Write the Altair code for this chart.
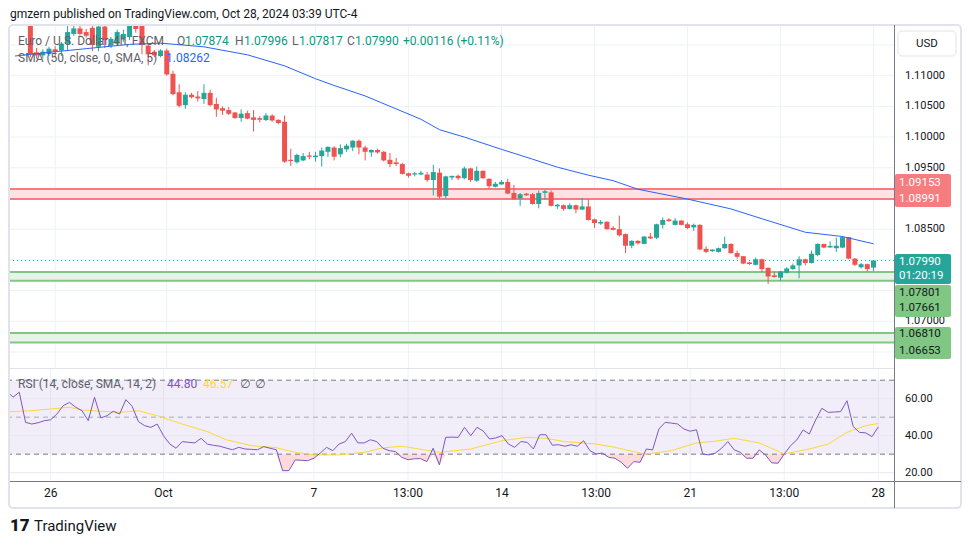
import json
import altair as alt
import pandas as pd

# ---------------- data ----------------
# EUR/USD 4h candles, index 0 = Sep 25 01:00 ... index 138 = Oct 28 01:00 (UTC-4)
opens = [1.1195, 1.1200, 1.1200, 1.1138, 1.1133, 1.1135, 1.1143, 1.1141, 1.1152, 1.1168,
         1.1177, 1.1171, 1.1178, 1.1147, 1.1180, 1.1149, 1.1152, 1.1160, 1.1163, 1.1181,
         1.1183, 1.1149, 1.1139, 1.1132, 1.1141, 1.1103, 1.1073, 1.1052, 1.1069, 1.1066,
         1.1062, 1.1072, 1.1054, 1.1047, 1.1044, 1.1040, 1.1031, 1.1039, 1.1032, 1.1030,
         1.1028, 1.1035, 1.1028, 1.1025, 1.0963, 1.0959, 1.0962, 1.0970, 1.0968, 1.0969,
         1.0976, 1.0983, 1.0972, 1.0980, 1.0983, 1.0994, 1.0983, 1.0975, 1.0979, 1.0976,
         1.0963, 1.0958, 1.0956, 1.0941, 1.0939, 1.0940, 1.0939, 1.0930, 1.0942, 1.0904,
         1.0935, 1.0937, 1.0933, 1.0949, 1.0929, 1.0945, 1.0932, 1.0919, 1.0923, 1.0927,
         1.0909, 1.0900, 1.0907, 1.0907, 1.0891, 1.0910, 1.0910, 1.0888, 1.0889, 1.0883,
         1.0889, 1.0882, 1.0887, 1.0866, 1.0860, 1.0862, 1.0852, 1.0850, 1.0842, 1.0823,
         1.0831, 1.0826, 1.0838, 1.0836, 1.0857, 1.0865, 1.0857, 1.0864, 1.0858, 1.0853,
         1.0857, 1.0818, 1.0815, 1.0813, 1.0819, 1.0826, 1.0811, 1.0806, 1.0795, 1.0792,
         1.0801, 1.0787, 1.0774, 1.0771, 1.0779, 1.0785, 1.0791, 1.0801, 1.0795, 1.0808,
         1.0826, 1.0821, 1.0819, 1.0820, 1.0837, 1.0802, 1.0788, 1.0793, 1.07874]
highs = [1.1205, 1.1214, 1.1212, 1.1145, 1.1143, 1.1147, 1.1148, 1.1155, 1.1181, 1.1182,
         1.1183, 1.1176, 1.1182, 1.1183, 1.1185, 1.1163, 1.1175, 1.1175, 1.1185, 1.1190,
         1.1190, 1.1152, 1.1142, 1.1143, 1.1144, 1.1108, 1.1086, 1.1073, 1.1072, 1.1075,
         1.1086, 1.1077, 1.1064, 1.1050, 1.1049, 1.1041, 1.1045, 1.1043, 1.1044, 1.1034,
         1.1039, 1.1037, 1.1029, 1.1035, 1.0981, 1.0973, 1.0974, 1.0976, 1.0976, 1.0983,
         1.0985, 1.0985, 1.0988, 1.0989, 1.0995, 1.0996, 1.0986, 1.0980, 1.0981, 1.0977,
         1.0974, 1.0966, 1.0958, 1.0942, 1.0943, 1.0945, 1.0943, 1.0955, 1.0949, 1.0937,
         1.0937, 1.0939, 1.0952, 1.0950, 1.0952, 1.0946, 1.0933, 1.0927, 1.0930, 1.0932,
         1.0922, 1.0909, 1.0909, 1.0909, 1.0913, 1.0914, 1.0913, 1.0891, 1.0890, 1.0892,
         1.0890, 1.0901, 1.0899, 1.0867, 1.0865, 1.0863, 1.0855, 1.0872, 1.0843, 1.0832,
         1.0832, 1.0839, 1.0844, 1.0859, 1.0869, 1.0868, 1.0868, 1.0865, 1.0861, 1.0859,
         1.0858, 1.0822, 1.0817, 1.0820, 1.0838, 1.0827, 1.0815, 1.0806, 1.0797, 1.0804,
         1.0802, 1.0788, 1.0781, 1.0782, 1.0788, 1.0794, 1.0806, 1.0802, 1.0815, 1.0827,
         1.0826, 1.0830, 1.0836, 1.0838, 1.0837, 1.0803, 1.0795, 1.0794, 1.07996]
lows = [1.1185, 1.1190, 1.1130, 1.1128, 1.1128, 1.1132, 1.1130, 1.1132, 1.1140, 1.1165,
        1.1165, 1.1162, 1.1140, 1.1140, 1.1145, 1.1145, 1.1148, 1.1155, 1.1158, 1.1170,
        1.1135, 1.1117, 1.1130, 1.1130, 1.1100, 1.1068, 1.1048, 1.1046, 1.1063, 1.1058,
        1.1054, 1.1050, 1.1033, 1.1036, 1.1036, 1.1030, 1.1025, 1.1029, 1.1009, 1.1024,
        1.1026, 1.1025, 1.1021, 1.0958, 1.0953, 1.0957, 1.0961, 1.0964, 1.0960, 1.0952,
        1.0968, 1.0962, 1.0967, 1.0976, 1.0977, 1.0972, 1.0962, 1.0968, 1.0973, 1.0960,
        1.0951, 1.0953, 1.0939, 1.0934, 1.0936, 1.0938, 1.0927, 1.0905, 1.0900, 1.0900,
        1.0930, 1.0930, 1.0931, 1.0927, 1.0927, 1.0932, 1.0916, 1.0918, 1.0922, 1.0907,
        1.0898, 1.0888, 1.0904, 1.0890, 1.0884, 1.0898, 1.0887, 1.0883, 1.0880, 1.0882,
        1.0876, 1.0881, 1.0864, 1.0852, 1.0857, 1.0849, 1.0848, 1.0838, 1.0811, 1.0819,
        1.0825, 1.0826, 1.0834, 1.0834, 1.0851, 1.0862, 1.0856, 1.0856, 1.0850, 1.0847,
        1.0816, 1.0811, 1.0813, 1.0812, 1.0818, 1.0810, 1.0802, 1.0793, 1.0792, 1.0791,
        1.0780, 1.0761, 1.0771, 1.0766, 1.0778, 1.0784, 1.0770, 1.0791, 1.0794, 1.0806,
        1.0819, 1.0820, 1.0813, 1.0819, 1.0801, 1.0790, 1.0786, 1.0781, 1.07817]
closes = [1.1200, 1.1205, 1.1135, 1.1133, 1.1139, 1.1144, 1.1139, 1.1152, 1.1171, 1.1177,
          1.1168, 1.1165, 1.1150, 1.1180, 1.1158, 1.1160, 1.1171, 1.1168, 1.1181, 1.1176,
          1.1150, 1.1135, 1.1133, 1.1141, 1.1102, 1.1070, 1.1051, 1.1069, 1.1065, 1.1063,
          1.1072, 1.1052, 1.1045, 1.1043, 1.1038, 1.1031, 1.1038, 1.1030, 1.1028, 1.1029,
          1.1035, 1.1027, 1.1023, 1.0960, 1.0961, 1.0971, 1.0969, 1.0968, 1.0969, 1.0978,
          1.0984, 1.0968, 1.0982, 1.0986, 1.0994, 1.0983, 1.0976, 1.0979, 1.0975, 1.0962,
          1.0956, 1.0957, 1.0940, 1.0937, 1.0941, 1.0941, 1.0930, 1.0943, 1.0903, 1.0936,
          1.0936, 1.0933, 1.0949, 1.0930, 1.0945, 1.0933, 1.0920, 1.0924, 1.0927, 1.0908,
          1.0899, 1.0907, 1.0906, 1.0891, 1.0909, 1.0911, 1.0888, 1.0889, 1.0883, 1.0889,
          1.0882, 1.0887, 1.0865, 1.0860, 1.0861, 1.0850, 1.0849, 1.0840, 1.0823, 1.0831,
          1.0827, 1.0838, 1.0835, 1.0858, 1.0865, 1.0864, 1.0864, 1.0857, 1.0852, 1.0857,
          1.0817, 1.0813, 1.0816, 1.0819, 1.0826, 1.0811, 1.0805, 1.0794, 1.0794, 1.0801,
          1.0785, 1.0773, 1.0773, 1.0781, 1.0786, 1.0791, 1.0801, 1.0795, 1.0810, 1.0826,
          1.0820, 1.0822, 1.0823, 1.0837, 1.0802, 1.0792, 1.0793, 1.0785, 1.07990]

# x-axis tick labels (candle index -> label)
tick_index = [6, 24, 48, 63, 78, 93, 108, 123, 138]
tick_labels = ["26", "Oct", "7", "13:00", "14", "13:00", "21", "13:00", "28"]

# price axis: grid every 0.005, labels that are not hidden behind the price tags
price_grid = [1.065, 1.07, 1.075, 1.08, 1.085, 1.09, 1.095, 1.10, 1.105, 1.11, 1.115]
price_labels = [1.07, 1.085, 1.095, 1.10, 1.105, 1.11]
rsi_labels = [20, 40, 60]

# SMA(50) of close, read at points along the line
sma_index = [-0.5, 5, 11, 18, 23, 30, 37, 43, 48, 51, 56, 65, 68, 72, 78, 83, 87, 92,
             96, 100, 108, 115, 120, 127, 133, 138]
sma_values = [1.1132, 1.1138, 1.1144, 1.1151, 1.1153, 1.1147, 1.1134, 1.1116, 1.1095,
              1.1084, 1.1067, 1.1029, 1.1012, 1.1000, 1.0980, 1.0964, 1.0951, 1.0938,
              1.0929, 1.0915, 1.0899, 1.0883, 1.0867, 1.0845, 1.0838, 1.08262]

# RSI(14)
rsi_index = [-0.5] + list(range(139))
rsi_values = [62.5,
              60.8, 63.5, 47.2, 46.3, 47.0, 48.1, 48.6, 51.7, 56.2, 58.0,
              55.4, 53.5, 48.1, 60.8, 49.6, 50.8, 53.2, 51.7, 59.5, 55.9,
              47.6, 45.4, 44.5, 46.3, 40.0, 35.5, 33.2, 36.8, 36.4, 36.1,
              38.6, 35.4, 34.8, 34.3, 33.3, 32.4, 33.7, 32.8, 32.6, 32.4,
              34.1, 33.2, 32.4, 21.1, 21.1, 26.9, 26.7, 26.5, 27.8, 30.6,
              33.7, 31.9, 35.5, 36.8, 41.3, 36.1, 36.1, 37.8, 36.8, 33.2,
              31.9, 31.4, 28.3, 27.0, 27.5, 27.6, 26.0, 33.2, 24.2, 39.1,
              39.2, 39.1, 44.5, 40.0, 44.5, 42.5, 38.2, 38.8, 40.0, 35.5,
              33.7, 36.8, 36.4, 32.8, 40.5, 40.5, 34.9, 35.1, 34.3, 35.1,
              34.3, 37.3, 31.9, 30.1, 30.6, 28.3, 27.8, 25.6, 22.4, 26.0,
              25.6, 32.8, 32.3, 43.6, 47.2, 46.8, 46.3, 43.6, 42.4, 43.2,
              30.1, 29.6, 30.6, 33.2, 36.8, 32.4, 31.0, 27.8, 27.8, 32.3,
              29.6, 25.3, 25.1, 30.1, 34.6, 37.7, 43.1, 40.9, 48.5, 54.8,
              52.6, 52.8, 53.0, 58.9, 44.9, 41.8, 41.5, 39.5, 44.8]
# SMA(14) of RSI
rsi_ma_index = [-0.5, 3, 9, 11, 17, 20, 23, 27, 31, 34, 38, 42, 45, 48, 52, 56, 59, 62,
                68, 73, 78, 82, 85, 88, 93, 96, 100, 101, 105, 109, 112, 115, 119, 123,
                127, 130, 133, 136, 138]
rsi_ma_values = [53.0, 53.5, 55.4, 53.9, 52.6, 53.5, 50.8, 46.3, 42.2, 37.8, 34.6, 33.5,
                 31.0, 29.6, 29.6, 31.0, 33.4, 34.3, 31.0, 32.8, 37.3, 39.1, 38.6, 36.8,
                 35.5, 33.7, 30.6, 30.1, 31.9, 36.1, 37.0, 38.6, 36.1, 30.1, 32.8, 35.5,
                 41.8, 45.4, 46.57]

# horizontal zones
zone_tops = [1.09153, 1.07801, 1.06810]
zone_bottoms = [1.08991, 1.07661, 1.06653]
zone_kind = ["red", "green", "green"]
last_close = 1.07990
countdown = "01:20:19"

# ---------------- styling / layout ----------------
W, HM, HR = 884, 342, 112
FONT = "Roboto"
UP, DOWN = "#26a69a", "#ef5350"
GRID = "#eef1f8"
AXC = "#787b86"
TXT = "#131722"
LEG = "#5d606b"
ZLINE = {"red": "#f77c80", "green": "#81c784"}
ZFILL = {"red": "#fde3e4", "green": "#e6f4e7"}

xs = alt.Scale(domain=[-0.48, 140.5], nice=False, zero=False)
ys = alt.Scale(domain=[1.06239, 1.11809], nice=False, zero=False)
rs = alt.Scale(domain=[15.5, 76.05], nice=False, zero=False)

cd = pd.DataFrame({"i": list(range(len(opens))), "o": opens, "h": highs, "l": lows, "c": closes})
cd["dir"] = ["up" if c >= o else "down" for o, c in zip(opens, closes)]
ccol = alt.Color("dir:N", scale=alt.Scale(domain=["up", "down"], range=[UP, DOWN]), legend=None)

X = lambda f="i:Q": alt.X(f, scale=xs, axis=None)
YM = lambda f: alt.Y(f, scale=ys, axis=None)
YR = lambda f: alt.Y(f, scale=rs, axis=None)
ONE = pd.DataFrame({"k": [0]})


def ptext(t, x, y, color, size=12, weight="normal", font=FONT, align="left"):
    return alt.Chart(ONE).mark_text(text=t, color=color, align=align, baseline="middle",
                                    font=font, fontSize=size, fontWeight=weight, clip=False).encode(
        x=alt.value(x), y=alt.value(y))


def prect(x, x2, y, y2, fill, radius=2, **kw):
    return alt.Chart(ONE).mark_rect(color=fill, cornerRadius=radius, clip=False, **kw).encode(
        x=alt.value(x), x2=alt.value(x2), y=alt.value(y), y2=alt.value(y2))


def pline(x, x2, y, y2, color, width=1):
    return alt.Chart(ONE).mark_rule(color=color, strokeWidth=width, clip=False).encode(
        x=alt.value(x), x2=alt.value(x2), y=alt.value(y), y2=alt.value(y2))


ticks_df = pd.DataFrame({"i": tick_index, "lab": tick_labels})

# ---------------- main (price) panel ----------------
hgrid = alt.Chart(pd.DataFrame({"p": price_grid})).mark_rule(color=GRID, strokeWidth=1).encode(y=YM("p:Q"))
vgrid_m = alt.Chart(ticks_df).mark_rule(color=GRID, strokeWidth=1).encode(x=X())
plabels = alt.Chart(pd.DataFrame({"p": price_labels})).transform_calculate(
    t="format(datum.p, '.5f')").mark_text(align="left", baseline="middle", font=FONT, fontSize=11,
                                          color=TXT, clip=False, dx=11).encode(
    y=YM("p:Q"), x=alt.value(W), text="t:N")

zones = pd.DataFrame({"top": zone_tops, "bot": zone_bottoms,
                      "fill": [ZFILL[k] for k in zone_kind]})
zlines = pd.DataFrame({"p": zone_tops + zone_bottoms, "line": [ZLINE[k] for k in zone_kind] * 2})
zone_fill = alt.Chart(zones).mark_rect().encode(
    x=alt.value(0), x2=alt.value(W), y=YM("top:Q"), y2="bot:Q",
    color=alt.Color("fill:N", scale=None))
zone_line = alt.Chart(zlines).mark_rule(strokeWidth=2).encode(
    y=YM("p:Q"), color=alt.Color("line:N", scale=None))

wicks = alt.Chart(cd).mark_rule(strokeWidth=1, clip=True).encode(
    x=X(), y=YM("l:Q"), y2="h:Q", color=ccol)
bodies = alt.Chart(cd).transform_calculate(
    bt="max(datum.o, datum.c) + (abs(datum.o - datum.c) < 0.00016 ? 0.00008 : 0)",
    bb="min(datum.o, datum.c) - (abs(datum.o - datum.c) < 0.00016 ? 0.00008 : 0)",
).mark_bar(size=5, clip=True).encode(x=X(), y=YM("bb:Q"), y2="bt:Q", color=ccol)

sma_df = pd.DataFrame({"i": sma_index, "v": sma_values})
sma_line = alt.Chart(sma_df).mark_line(color="#2962ff", strokeWidth=1, clip=True).encode(
    x=X(), y=YM("v:Q"))

last_line = alt.Chart(pd.DataFrame({"p": [last_close]})).mark_rule(
    color=UP, strokeDash=[1, 3], strokeWidth=1).encode(y=YM("p:Q"))

d = lambda v: f"{v:.5f}"
VAL = "#089981"
chg = closes[-1] - opens[-1]
legend_main = [
    ptext("Euro / U.S. Dollar, 4h, FXCM", 8, 15, LEG),
    ptext("O", 167, 15, LEG), ptext(d(opens[-1]), 175, 15, VAL),
    ptext("H", 225, 15, LEG), ptext(d(highs[-1]), 234, 15, VAL),
    ptext("L", 282, 15, LEG), ptext(d(lows[-1]), 289, 15, VAL),
    ptext("C", 337, 15, LEG), ptext(d(closes[-1]), 345, 15, VAL),
    ptext(f"+{chg:.5f} (+{chg / opens[-1] * 100:.2f}%)", 393, 15, VAL),
    ptext("SMA (50, close, 0, SMA, 5)", 8, 32, LEG), ptext(d(sma_values[-1]), 156, 32, "#2962ff"),
    ptext("gmzern published on TradingView.com, Oct 28, 2024 03:39 UTC-4", 0, -12, TXT, size=12),
]

BX1, BX2 = W + 1, W + 57
badges = [
    prect(BX1, BX2, 148, 181, ZLINE["red"]),
    prect(BX1, BX2, 228, 258, UP),
    prect(BX1, BX2, 259, 291, ZLINE["green"]),
    prect(BX1, BX2, 301, 333, ZLINE["green"]),
    ptext(d(zone_tops[0]), W + 5, 157, "#ffffff", size=11.5),
    ptext(d(zone_bottoms[0]), W + 5, 173, "#ffffff", size=11.5),
    ptext(d(last_close), W + 5, 236, "#ffffff", size=11.5),
    ptext(countdown, W + 5, 250, "#ffffff", size=11.5),
    ptext(d(zone_tops[1]), W + 5, 267, TXT, size=11.5),
    ptext(d(zone_bottoms[1]), W + 5, 282, TXT, size=11.5),
    ptext(d(zone_tops[2]), W + 5, 308, TXT, size=11.5),
    ptext(d(zone_bottoms[2]), W + 5, 325, TXT, size=11.5),
    prect(W + 4, W + 62, 5, 30, "#ffffff", radius=4, stroke="#e0e3eb", strokeWidth=1),
    ptext("USD", W + 33, 17.5, TXT, size=11.5, align="center"),
    prect(-1, W + 67, -1, HM + 1 + HR + 27, "#ffffff", radius=4,
          fillOpacity=0, stroke="#e0e3eb", strokeWidth=2),
    pline(W + 0.5, W + 0.5, -1, HM + 1, AXC),
]

main = alt.layer(hgrid, vgrid_m, plabels, zone_fill, zone_line, last_line, wicks, bodies,
                 sma_line, *legend_main, *badges).properties(width=W, height=HM)

# ---------------- RSI panel ----------------
rsi_df = pd.DataFrame({"i": rsi_index, "r": rsi_values})
ma_df = pd.DataFrame({"i": rsi_ma_index, "r": rsi_ma_values})

band = alt.Chart(pd.DataFrame({"top": [70], "bot": [30]})).mark_rect(color="#7e57c2", opacity=0.1).encode(
    x=alt.value(0), x2=alt.value(W), y=YR("top:Q"), y2="bot:Q")
rgrid = alt.Chart(pd.DataFrame({"v": rsi_labels})).mark_rule(color="#e9e6f2", strokeWidth=1).encode(y=YR("v:Q"))
vgrid_r = alt.Chart(ticks_df).mark_rule(color=GRID, strokeWidth=1).encode(x=X())
rlabels = alt.Chart(pd.DataFrame({"v": rsi_labels})).transform_calculate(
    t="format(datum.v, '.2f')").mark_text(align="left", baseline="middle", font=FONT, fontSize=11,
                                          color=TXT, clip=False, dx=11).encode(
    y=YR("v:Q"), x=alt.value(W), text="t:N")
xlabels = alt.Chart(ticks_df).mark_text(align="center", baseline="middle", font=FONT, fontSize=12,
                                        color=TXT, clip=False).encode(
    x=X(), y=alt.value(HR + 12), text="lab:N")
levels = alt.Chart(pd.DataFrame({"v": [70, 50, 30], "op": [1.0, 0.6, 1.0]})).mark_rule(
    color=AXC, strokeDash=[5, 4], strokeWidth=1).encode(
    y=YR("v:Q"), opacity=alt.Opacity("op:Q", scale=None))
oversold = alt.Chart(rsi_df).transform_calculate(lo="min(datum.r, 30)", thirty="30").mark_area(
    color="#f23645", opacity=0.18, clip=True).encode(x=X(), y=YR("lo:Q"), y2="thirty:Q")
ma_line = alt.Chart(ma_df).mark_line(color="#fdd835", strokeWidth=1, clip=True).encode(
    x=X(), y=YR("r:Q"))
rsi_line = alt.Chart(rsi_df).mark_line(color="#7e57c2", strokeWidth=1, clip=True).encode(
    x=X(), y=YR("r:Q"))
rsi_extras = [
    ptext("RSI (14, close, SMA, 14, 2)", 8, 15, LEG),
    ptext(f"{rsi_values[-1]:.2f}", 157, 15, "#7e57c2"),
    ptext(f"{rsi_ma_values[-1]:.2f}", 193, 15, "#fdd835"),
    ptext("\u2205", 230, 15, LEG, font="DejaVu Sans"),
    ptext("\u2205", 245, 15, LEG, font="DejaVu Sans"),
    pline(W + 0.5, W + 0.5, -1, HR + 27, AXC),
    pline(0, W + 67, HR + 0.5, HR + 0.5, AXC),
    pline(0, W, -0.5, -0.5, "#e0e3eb"),
    ptext("17", 0, 157, TXT, size=17, weight=900),
    ptext("TradingView", 24, 157, TXT, size=15),
]

rsi = alt.layer(vgrid_r, band, rgrid, levels, oversold, ma_line, rsi_line, rlabels, xlabels,
                *rsi_extras).properties(width=W, height=HR)

chart = alt.vconcat(main, rsi, spacing=1, bounds="flush").properties(
    padding={"left": 0, "top": 0, "right": 0, "bottom": 0}, background="#ffffff"
).configure_view(strokeWidth=0)

chart.save("out.html", embed_options={"renderer": "svg", "actions": False})
